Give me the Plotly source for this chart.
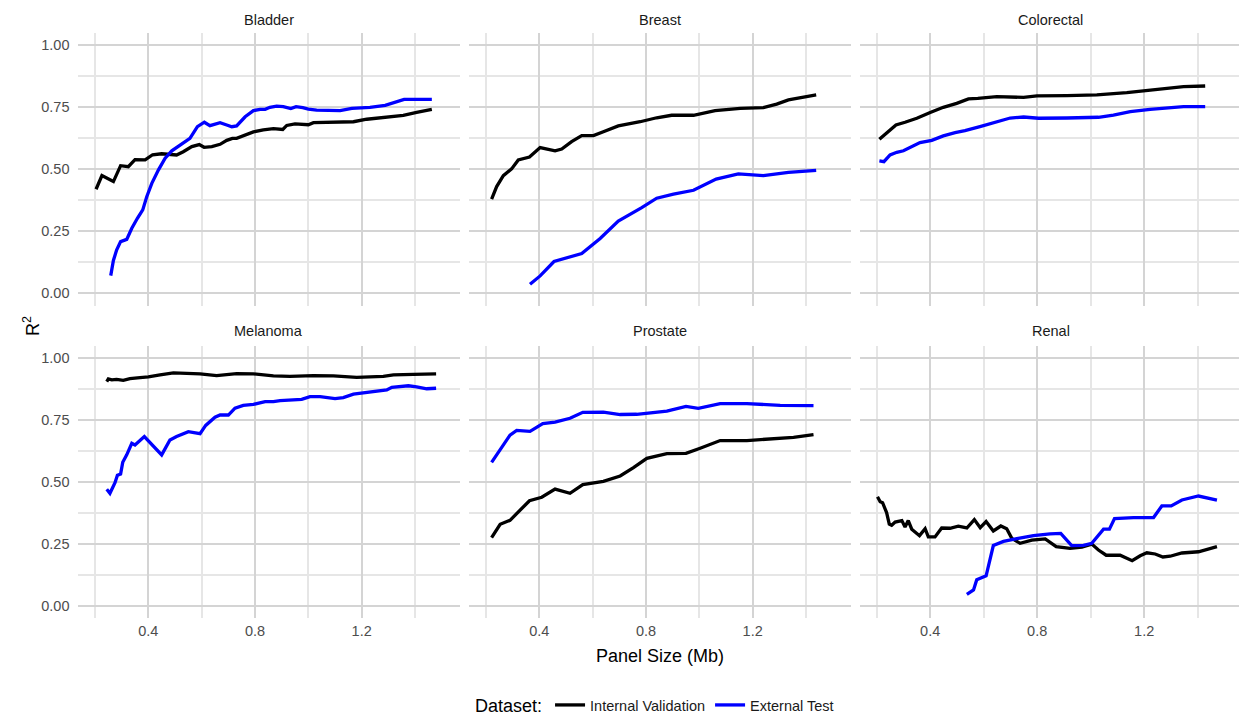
import plotly.graph_objects as go

# ---------------- data ----------------
panels = ["Bladder", "Breast", "Colorectal", "Melanoma", "Prostate", "Renal"]
series_names = ["Internal Validation", "External Test"]
x_tick_vals = [0.4, 0.8, 1.2]
x_tick_text = ["0.4", "0.8", "1.2"]
y_tick_vals = [0.0, 0.25, 0.5, 0.75, 1.0]
y_tick_text = ["0.00", "0.25", "0.50", "0.75", "1.00"]

bladder_int_x = [0.204, 0.226, 0.269, 0.296, 0.325, 0.350, 0.388, 0.416, 0.450, 0.481, 0.506, 0.531, 0.563, 0.591,
                 0.609, 0.638, 0.669, 0.694, 0.715, 0.731, 0.756, 0.794, 0.831, 0.869, 0.904, 0.919, 0.950, 0.981,
                 1.000, 1.019, 1.069, 1.119, 1.169, 1.219, 1.281, 1.356, 1.406, 1.463]
bladder_int_y = [0.419, 0.474, 0.450, 0.514, 0.510, 0.538, 0.537, 0.558, 0.562, 0.561, 0.557, 0.570, 0.591, 0.599,
                 0.588, 0.591, 0.600, 0.616, 0.624, 0.624, 0.634, 0.650, 0.658, 0.663, 0.660, 0.676, 0.682, 0.682,
                 0.679, 0.687, 0.689, 0.690, 0.691, 0.701, 0.709, 0.717, 0.729, 0.741]
bladder_ext_x = [0.259, 0.269, 0.281, 0.296, 0.319, 0.338, 0.359, 0.379, 0.394, 0.413, 0.438, 0.463, 0.488, 0.519,
                 0.556, 0.584, 0.610, 0.631, 0.669, 0.694, 0.713, 0.731, 0.763, 0.794, 0.819, 0.838, 0.856, 0.881,
                 0.906, 0.934, 0.954, 0.979, 1.000, 1.031, 1.119, 1.163, 1.231, 1.288, 1.325, 1.359, 1.406, 1.463]
bladder_ext_y = [0.071, 0.132, 0.174, 0.208, 0.217, 0.262, 0.302, 0.336, 0.389, 0.443, 0.497, 0.544, 0.574, 0.597,
                 0.624, 0.671, 0.689, 0.675, 0.687, 0.678, 0.671, 0.674, 0.711, 0.736, 0.741, 0.741, 0.749, 0.754,
                 0.752, 0.744, 0.752, 0.748, 0.742, 0.738, 0.736, 0.745, 0.749, 0.757, 0.768, 0.781, 0.781, 0.781]

breast_int_x = [0.221, 0.240, 0.265, 0.296, 0.321, 0.363, 0.403, 0.459, 0.484, 0.521, 0.559, 0.603, 0.640, 0.696,
                0.778, 0.840, 0.896, 0.978, 1.059, 1.153, 1.240, 1.290, 1.334, 1.390, 1.438]
breast_int_y = [0.379, 0.430, 0.474, 0.501, 0.537, 0.549, 0.587, 0.574, 0.581, 0.611, 0.635, 0.635, 0.651, 0.674,
                0.691, 0.707, 0.717, 0.717, 0.736, 0.745, 0.748, 0.762, 0.779, 0.789, 0.799]
breast_ext_x = [0.365, 0.403, 0.455, 0.509, 0.559, 0.628, 0.696, 0.784, 0.840, 0.903, 0.978, 1.063, 1.146, 1.240,
                1.334, 1.438]
breast_ext_y = [0.036, 0.070, 0.128, 0.144, 0.160, 0.221, 0.291, 0.345, 0.383, 0.399, 0.415, 0.460, 0.481, 0.474,
                0.487, 0.495]

colorectal_int_x = [0.210, 0.237, 0.272, 0.306, 0.350, 0.400, 0.449, 0.499, 0.543, 0.578, 0.649, 0.749, 0.799,
                    0.911, 1.023, 1.135, 1.210, 1.272, 1.347, 1.428]
colorectal_int_y = [0.620, 0.644, 0.678, 0.689, 0.705, 0.728, 0.749, 0.765, 0.783, 0.785, 0.792, 0.789, 0.795,
                    0.796, 0.799, 0.808, 0.817, 0.826, 0.832, 0.835]
colorectal_ext_x = [0.210, 0.227, 0.250, 0.275, 0.300, 0.331, 0.362, 0.406, 0.449, 0.493, 0.530, 0.586, 0.649,
                    0.699, 0.749, 0.805, 0.911, 1.029, 1.085, 1.148, 1.222, 1.297, 1.347, 1.428]
colorectal_ext_y = [0.533, 0.530, 0.557, 0.568, 0.574, 0.591, 0.607, 0.616, 0.634, 0.647, 0.655, 0.671, 0.689,
                    0.706, 0.710, 0.705, 0.706, 0.709, 0.718, 0.732, 0.741, 0.748, 0.752, 0.752]

melanoma_int_x = [0.244, 0.250, 0.263, 0.281, 0.306, 0.331, 0.369, 0.400, 0.444, 0.494, 0.544, 0.594, 0.656,
                  0.731, 0.794, 0.869, 0.931, 1.019, 1.094, 1.181, 1.281, 1.319, 1.394, 1.479]
melanoma_int_y = [0.906, 0.917, 0.913, 0.915, 0.911, 0.918, 0.922, 0.925, 0.933, 0.941, 0.939, 0.937, 0.930,
                  0.938, 0.937, 0.929, 0.927, 0.930, 0.929, 0.923, 0.927, 0.933, 0.935, 0.937]
melanoma_ext_x = [0.244, 0.256, 0.275, 0.284, 0.296, 0.304, 0.319, 0.338, 0.350, 0.385, 0.450, 0.481, 0.506,
                  0.550, 0.594, 0.615, 0.650, 0.669, 0.700, 0.725, 0.756, 0.794, 0.838, 0.869, 0.894, 0.925,
                  0.975, 1.006, 1.044, 1.100, 1.131, 1.169, 1.219, 1.263, 1.294, 1.313, 1.356, 1.375, 1.406,
                  1.444, 1.479]
melanoma_ext_y = [0.471, 0.455, 0.498, 0.528, 0.533, 0.580, 0.610, 0.657, 0.650, 0.684, 0.610, 0.670, 0.684,
                  0.704, 0.696, 0.729, 0.762, 0.771, 0.771, 0.799, 0.810, 0.814, 0.825, 0.825, 0.829, 0.832,
                  0.834, 0.845, 0.845, 0.837, 0.841, 0.855, 0.863, 0.867, 0.872, 0.883, 0.885, 0.889, 0.885,
                  0.877, 0.879]

prostate_int_x = [0.221, 0.253, 0.290, 0.328, 0.363, 0.409, 0.459, 0.515, 0.563, 0.640, 0.703, 0.753, 0.803,
                  0.878, 0.950, 1.003, 1.078, 1.178, 1.353, 1.428]
prostate_int_y = [0.276, 0.330, 0.346, 0.388, 0.425, 0.439, 0.472, 0.455, 0.490, 0.503, 0.525, 0.559, 0.596,
                  0.615, 0.616, 0.637, 0.668, 0.668, 0.681, 0.692]
prostate_ext_x = [0.221, 0.255, 0.290, 0.315, 0.365, 0.413, 0.459, 0.515, 0.563, 0.640, 0.703, 0.765, 0.828,
                  0.878, 0.950, 0.996, 1.078, 1.178, 1.303, 1.428]
prostate_ext_y = [0.580, 0.637, 0.690, 0.709, 0.705, 0.736, 0.742, 0.758, 0.782, 0.783, 0.773, 0.774, 0.782,
                  0.787, 0.806, 0.798, 0.817, 0.817, 0.810, 0.809]

renal_int_x = [0.203, 0.213, 0.222, 0.237, 0.247, 0.256, 0.269, 0.294, 0.306, 0.318, 0.331, 0.360, 0.381, 0.393,
               0.418, 0.443, 0.474, 0.505, 0.537, 0.565, 0.587, 0.609, 0.636, 0.664, 0.686, 0.705, 0.736, 0.780,
               0.830, 0.871, 0.923, 0.967, 1.004, 1.029, 1.058, 1.110, 1.155, 1.185, 1.210, 1.241, 1.270, 1.297,
               1.341, 1.403, 1.472]
renal_int_y = [0.441, 0.421, 0.417, 0.377, 0.331, 0.326, 0.339, 0.345, 0.319, 0.345, 0.310, 0.284, 0.312, 0.279,
               0.279, 0.315, 0.314, 0.322, 0.315, 0.349, 0.316, 0.341, 0.303, 0.323, 0.312, 0.273, 0.253, 0.266,
               0.271, 0.240, 0.233, 0.238, 0.250, 0.226, 0.205, 0.205, 0.183, 0.203, 0.215, 0.210, 0.198, 0.201,
               0.214, 0.219, 0.240]
renal_ext_x = [0.537, 0.562, 0.574, 0.609, 0.636, 0.674, 0.724, 0.786, 0.848, 0.888, 0.929, 0.973, 1.004, 1.048,
               1.070, 1.089, 1.160, 1.235, 1.266, 1.301, 1.341, 1.403, 1.472]
renal_ext_y = [0.047, 0.065, 0.106, 0.122, 0.244, 0.261, 0.272, 0.284, 0.291, 0.293, 0.244, 0.245, 0.253, 0.310,
               0.310, 0.353, 0.357, 0.357, 0.404, 0.404, 0.428, 0.444, 0.427]

panel_data = {
    "Bladder": (bladder_int_x, bladder_int_y, bladder_ext_x, bladder_ext_y),
    "Breast": (breast_int_x, breast_int_y, breast_ext_x, breast_ext_y),
    "Colorectal": (colorectal_int_x, colorectal_int_y, colorectal_ext_x, colorectal_ext_y),
    "Melanoma": (melanoma_int_x, melanoma_int_y, melanoma_ext_x, melanoma_ext_y),
    "Prostate": (prostate_int_x, prostate_int_y, prostate_ext_x, prostate_ext_y),
    "Renal": (renal_int_x, renal_int_y, renal_ext_x, renal_ext_y),
}

# ---------------- layout geometry (pixels) ----------------
W, H = 1239, 717
col_px = [(77.5, 459.5), (468.5, 850.5), (859.5, 1239.0)]
col_xrange = [(0.1344, 1.5667), (0.1344, 1.5667), (0.1357, 1.5544)]
strip_center_px = [268.5, 659.5, 1050.5]
row_px = [(32.6, 305.7), (345.9, 618.4)]
strip_y_px = [20, 331.5]
yrange = (-0.05, 1.05)

FONT = "Liberation Sans, Arial, Helvetica, sans-serif"
colors = {"Internal Validation": "#000000", "External Test": "#0000FF"}
MAJOR_GRID = dict(color="#d4d4d4", width=1.8)
MINOR_GRID = dict(color="#e6e6e6", width=1.5)

fig = go.Figure()
annotations = []
for i, name in enumerate(panels):
    r, c = divmod(i, 3)
    k = "" if i == 0 else str(i + 1)
    ix, iy, ex, ey = panel_data[name]
    for sname, xs, ys in [(series_names[0], ix, iy), (series_names[1], ex, ey)]:
        fig.add_trace(go.Scatter(
            x=xs, y=ys, mode="lines", name=sname, legendgroup=sname,
            showlegend=(i == 0), line=dict(color=colors[sname], width=3.3),
            xaxis="x" + k, yaxis="y" + k,
        ))
    x0, x1 = col_px[c]
    y0, y1 = row_px[r]
    fig.layout["xaxis" + k] = dict(
        domain=[x0 / W, x1 / W], range=list(col_xrange[c]), anchor="y" + k,
        tickvals=x_tick_vals, ticktext=x_tick_text, showticklabels=(r == 1),
        showgrid=True, gridcolor=MAJOR_GRID["color"], gridwidth=MAJOR_GRID["width"],
        zeroline=False, showline=False, automargin=False,
        minor=dict(tickvals=[0.2, 0.6, 1.0, 1.4], showgrid=True,
                   gridcolor=MINOR_GRID["color"], gridwidth=MINOR_GRID["width"]),
        tickfont=dict(family=FONT, size=14.5, color="#4D4D4D"), ticks="", ticklabelstandoff=2,
        fixedrange=True,
    )
    fig.layout["yaxis" + k] = dict(
        domain=[1 - y1 / H, 1 - y0 / H], range=list(yrange), anchor="x" + k,
        tickvals=y_tick_vals, ticktext=y_tick_text, showticklabels=(c == 0),
        showgrid=True, gridcolor=MAJOR_GRID["color"], gridwidth=MAJOR_GRID["width"],
        zeroline=False, showline=False, automargin=False,
        minor=dict(tickvals=[0.125, 0.375, 0.625, 0.875], showgrid=True,
                   gridcolor=MINOR_GRID["color"], gridwidth=MINOR_GRID["width"]),
        tickfont=dict(family=FONT, size=14.5, color="#4D4D4D"), ticks="", ticklabelstandoff=7,
        fixedrange=True,
    )
    annotations.append(dict(
        text=name, x=strip_center_px[c] / W, y=1 - strip_y_px[r] / H, xref="paper", yref="paper",
        xanchor="center", yanchor="middle", showarrow=False,
        font=dict(family=FONT, size=14.5, color="#1A1A1A"),
    ))

annotations.append(dict(
    text="Panel Size (Mb)", x=659.5 / W, y=1 - 656 / H, xref="paper", yref="paper",
    xanchor="center", yanchor="middle", showarrow=False, font=dict(family=FONT, size=18, color="#000000"),
))
annotations.append(dict(
    text="R<sup>2</sup>", x=31 / W, y=1 - 326 / H, xref="paper", yref="paper",
    xanchor="center", yanchor="middle", showarrow=False, textangle=-90,
    font=dict(family=FONT, size=18, color="#000000"),
))

fig.update_layout(
    width=W, height=H, margin=dict(l=0, r=0, t=0, b=0, autoexpand=False),
    paper_bgcolor="white", plot_bgcolor="white",
    annotations=annotations,
    legend=dict(
        orientation="h", x=656 / W, xanchor="center",
        y=-6 / H, yanchor="bottom", valign="middle",
        title=dict(text="Dataset:", font=dict(family=FONT, size=18, color="#000000")),
        font=dict(family=FONT, size=14.5, color="#1A1A1A"),
        bgcolor="rgba(0,0,0,0)", itemwidth=30,
    ),
    font=dict(family=FONT),
)

fig.write_html("out.html")
